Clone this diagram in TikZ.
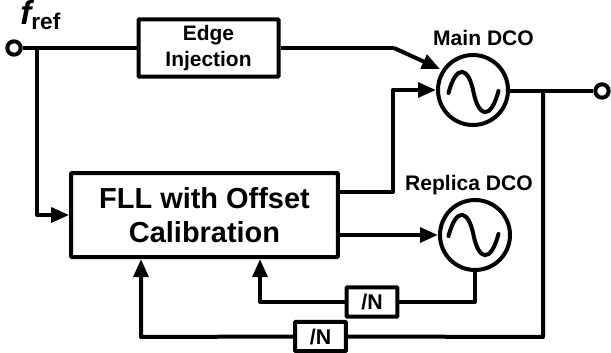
\documentclass[tikz,border=0pt]{standalone}
\usepackage{fontspec}
\setmainfont{Liberation Sans}
\usetikzlibrary{arrows.meta,calc}
\tikzset{
  x=0.75pt,y=-0.75pt,
  wire/.style={line width=3pt,line join=round,line cap=butt},
  arr/.style={wire,-{Triangle[length=13.5pt,width=11pt]}},
  block/.style={draw,line width=3pt,fill=white,rounded corners=0.6pt,inner sep=0pt,align=center,font=\bfseries},
  port/.style={circle,draw,line width=3pt,fill=white,minimum size=10pt,inner sep=0pt},
  dco/.style={circle,draw,line width=3pt,fill=white,minimum size=52.5pt,inner sep=0pt},
  lab/.style={inner sep=0pt,font=\bfseries}
}
\newcommand{\sinewave}[1]{%
  \draw[line width=3pt,line cap=round] ($(#1)+(-25,1)$) .. controls ($(#1)+(-17,-29)$) and ($(#1)+(-5,-25)$) .. (#1) .. controls ($(#1)+(5,25)$) and ($(#1)+(17,29)$) .. ($(#1)+(25,-1)$);}
\begin{document}
\begin{tikzpicture}
\useasboundingbox (0,0) rectangle (611,353);
% blocks
\node[block,minimum width=105pt,minimum height=43pt,font=\bfseries\fontsize{15.7pt}{19pt}\selectfont] (edge) at (208.5,48) {Edge\\Injection};
\node[block,minimum width=200pt,minimum height=63pt,font=\bfseries\fontsize{21.7pt}{25pt}\selectfont] (fll) at (204.5,215) {FLL with Offset\\Calibration};
\node[dco] (main) at (473,90) {};
\node[dco] (rep) at (475,235) {};
\node[block,minimum width=38pt,minimum height=22pt,font=\bfseries\fontsize{16pt}{16pt}\selectfont] (n1) at (372,302) {/N};
\node[block,minimum width=38pt,minimum height=22pt,font=\bfseries\fontsize{16pt}{16pt}\selectfont] (n2) at (320.5,336.5) {/N};
\node[port] (in) at (14,48) {};
\node[port] (out) at (602,91) {};
% labels
\node[lab,anchor=base west] (fref) at (20,25) {\fontsize{25pt}{25pt}\selectfont\itshape f\fontsize{17pt}{17pt}\selectfont\upshape\raisebox{-3.5pt}{ref}};
\node[lab,font=\bfseries\fontsize{15.8pt}{16pt}\selectfont] (mlabel) at (483.5,38) {Main DCO};
\node[lab,font=\bfseries\fontsize{15.8pt}{16pt}\selectfont] (rlabel) at (469,185) {Replica DCO};
% sine waves
\coordinate (mc) at (473.5,92);
\coordinate (rc) at (473.5,235);
\sinewave{mc}
\sinewave{rc}
% helper coordinates
\coordinate (j1) at (37,48);
\coordinate (bend) at (394,48);
\coordinate (mtip) at (440,69);
\coordinate (j2) at (543,91);
\coordinate (fa) at (141,337);
\coordinate (fb) at (260,302);
% connectors
\draw[wire] (in) -- (edge);
\draw[wire] (edge) -- (bend);
\draw[arr] (bend) -- (mtip);
\draw[arr] (j1) -- (37,215) -- (fll.west);
\draw[arr] (fll.east |- 0,192) -- (393,192) -- (393,90) -- (main.west);
\draw[arr] (fll.east |- rc) -- (rep.west);
\draw[wire] (main.east |- j2) -- (out);
\draw[wire] (j2) -- (543,337) -- (n2.east);
\draw[arr] (n2.west) -- (fa) -- (fa |- fll.south);
\draw[wire] (rep.south) -- (475,302) -- (n1.east);
\draw[arr] (n1.west) -- (fb) -- (fb |- fll.south);
\end{tikzpicture}
\end{document}
